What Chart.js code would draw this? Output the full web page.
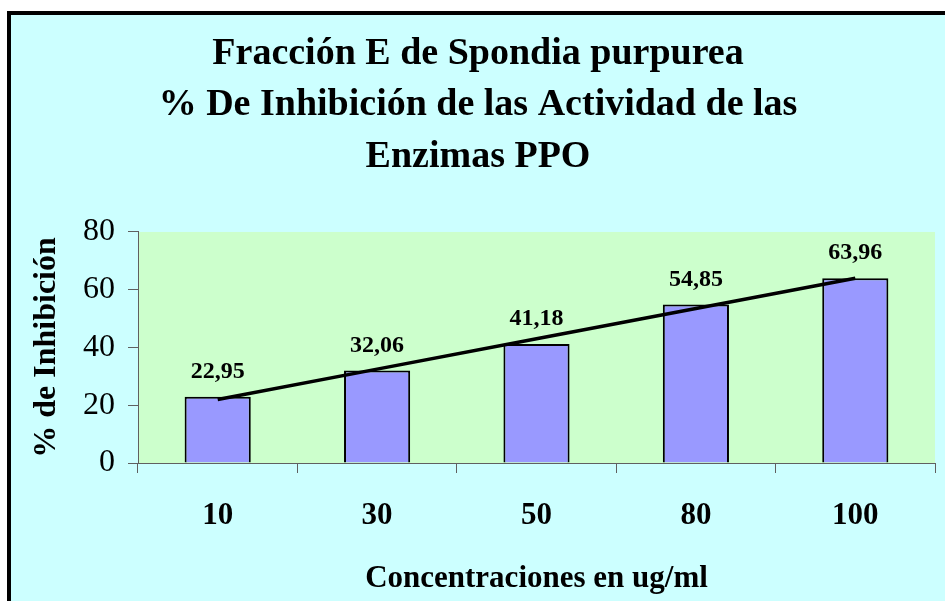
<!DOCTYPE html>
<html>
<head>
<meta charset="utf-8">
<script src="https://cdn.jsdelivr.net/npm/chart.js@4/dist/chart.umd.min.js"></script>
<style>
  html, body { margin: 0; padding: 0; background: #ffffff; width: 945px; height: 601px; overflow: hidden; }
  #frame { position: absolute; left: 7px; top: 11px; width: 934px; height: 586px;
           border-top: 4px solid #000; border-left: 4px solid #000; background: #CCFFFF; }
  #c { display: block; }
</style>
</head>
<body>
<div id="frame"><canvas id="c" width="934" height="586"></canvas></div>
<script>
const categories = ['10', '30', '50', '80', '100'];
const inhibition = [22.95, 32.06, 41.18, 54.85, 63.96];
const trendLine = [22.0, 32.5, 43.0, 53.5, 64.0];
const titleLines = ['Fracción E de Spondia purpurea', '% De Inhibición de las Actividad de las', 'Enzimas PPO'];
const yAxisTitle = '% de Inhibición';
const xAxisTitle = 'Concentraciones en ug/ml';

const SERIF = '"Liberation Serif", "Times New Roman", Times, serif';

const plotBg = {
  id: 'plotBg',
  beforeDraw(chart) {
    const { ctx, chartArea: a } = chart;
    ctx.save();
    ctx.fillStyle = '#CCFFCC';
    ctx.fillRect(a.left, a.top, a.right - a.left, a.bottom - a.top);
    ctx.restore();
  }
};

const barLabels = {
  id: 'barLabels',
  afterDatasetsDraw(chart) {
    const { ctx } = chart;
    const meta = chart.getDatasetMeta(0);
    ctx.save();
    ctx.font = 'bold 24px ' + SERIF;
    ctx.fillStyle = '#000';
    ctx.textAlign = 'center';
    ctx.textBaseline = 'middle';
    meta.data.forEach((bar, i) => {
      const txt = inhibition[i].toFixed(2).replace('.', ',');
      ctx.fillText(txt, bar.x, bar.y - 25);
    });
    ctx.restore();
  }
};

new Chart(document.getElementById('c'), {
  data: {
    labels: categories,
    datasets: [
      {
        type: 'bar',
        data: inhibition,
        backgroundColor: '#9999FF',
        borderColor: '#000000',
        borderWidth: 2,
        categoryPercentage: 1.0,
        barPercentage: 0.415,
        order: 2
      },
      {
        type: 'line',
        data: trendLine,
        borderColor: '#000000',
        borderWidth: 3.5,
        pointRadius: 0,
        fill: false,
        tension: 0,
        order: 1
      }
    ]
  },
  options: {
    responsive: false,
    animation: false,
    layout: { padding: { left: 10, right: 10, top: 0, bottom: 0 } },
    plugins: {
      legend: { display: false },
      tooltip: { enabled: false },
      title: {
        display: true,
        text: titleLines,
        color: '#000',
        font: { family: SERIF, size: 38, weight: 'bold', lineHeight: 1.355 },
        padding: { top: 13, bottom: 49.5 }
      }
    },
    scales: {
      x: {
        offset: true,
        grid: { display: true, drawOnChartArea: false, offset: true, tickLength: 10, color: '#606060', tickColor: '#606060' },
        border: { display: true, color: '#606060', width: 1 },
        ticks: { color: '#000', font: { family: SERIF, size: 31, weight: 'bold' }, padding: 24, maxRotation: 0 },
        title: { display: true, text: xAxisTitle, color: '#000', font: { family: SERIF, size: 31, weight: 'bold', lineHeight: 1.2 }, padding: { top: 0, bottom: 3.5 } },
        afterFit(scale) { scale.height = 138; }
      },
      y: {
        min: 0,
        max: 80,
        grid: { display: true, drawOnChartArea: false, tickLength: 10, color: '#606060', tickColor: '#606060' },
        border: { display: true, color: '#606060', width: 1 },
        ticks: { stepSize: 20, color: '#000', font: { family: SERIF, size: 32 }, padding: 13 },
        title: { display: true, text: yAxisTitle, color: '#000', font: { family: SERIF, size: 32, weight: 'bold', lineHeight: 1.2 }, padding: { top: 7, bottom: 0 } },
        afterFit(scale) { scale.width = 117; }
      }
    }
  },
  plugins: [plotBg, barLabels]
});
</script>
</body>
</html>
